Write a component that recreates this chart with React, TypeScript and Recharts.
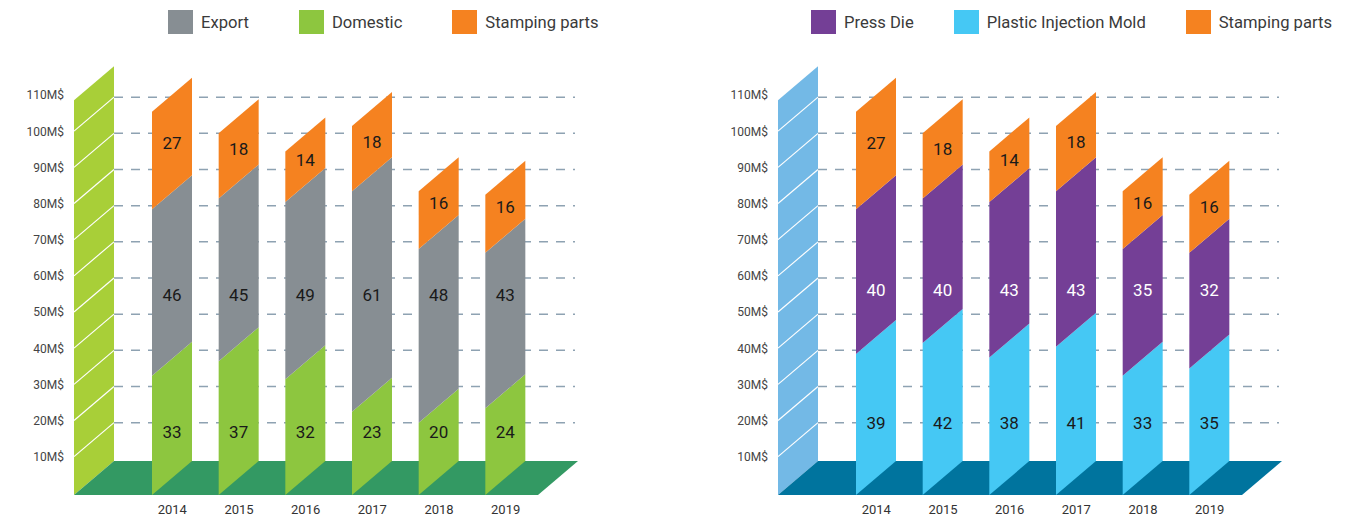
import React from "react";
import {
  BarChart,
  Bar,
  XAxis,
  YAxis,
  CartesianGrid,
  Legend,
  LabelList,
  Customized,
} from "recharts";

// values
const YEARS = ["2014", "2015", "2016", "2017", "2018", "2019"];
const DOMESTIC = [33, 37, 32, 23, 20, 24];
const EXPORT = [46, 45, 49, 61, 48, 43];
const STAMPING = [27, 18, 14, 18, 16, 16];
const PLASTIC_MOLD = [39, 42, 38, 41, 33, 35];
const PRESS_DIE = [40, 40, 43, 43, 35, 32];
const Y_TICKS = [10, 20, 30, 40, 50, 60, 70, 80, 90, 100, 110];
const GRID_VALUES = [20, 30, 40, 50, 60, 70, 80, 90, 100, 110];

const FONT = "Roboto, 'Open Sans', sans-serif";

// layout of one chart panel
const CHART_W = 650;
const CHART_H = 519;
const PLOT_LEFT = 114;
const PLOT_RIGHT = 575;
const PLOT_TOP = 61;
const PLOT_BOTTOM = 495;
const Y_MAX = 120;
const DEPTH_X = 40; // 3d slant of wall / floor / bar tops
const DEPTH_Y = 34;

const yOf = (v: number) =>
  PLOT_BOTTOM - (v / Y_MAX) * (PLOT_BOTTOM - PLOT_TOP);

interface SeriesDef {
  key: string;
  name: string;
  color: string;
  labelColor: string;
  labelRow?: number; // fixed y for label, otherwise centred in segment
}

interface PanelProps {
  data: any[];
  series: SeriesDef[]; // bottom to top
  legendOrder: string[];
  legendLeft: number;
  legendGap: number;
  wallColor: string;
  floorColor: string;
}

const slantShape = (fill: string) => (props: any) => {
  const { x, y, width, height } = props;
  if (!height || height <= 0) return <g />;
  const pts = [
    [x, y + height],
    [x, y],
    [x + width, y - DEPTH_Y],
    [x + width, y + height - DEPTH_Y],
  ]
    .map((p) => p.join(","))
    .join(" ");
  return <polygon points={pts} fill={fill} />;
};

const segmentLabel = (s: SeriesDef) => (props: any) => {
  const { x, y, width, height, value } = props;
  const ty = s.labelRow ?? y + height / 2 - DEPTH_Y / 2;
  return (
    <text
      x={x + width / 2}
      y={ty}
      textAnchor="middle"
      dominantBaseline="central"
      fontSize={17}
      fontFamily={FONT}
      fill={s.labelColor}
    >
      {value}
    </text>
  );
};

const Backdrop = ({ wall, floor }: { wall: string; floor: string }) => {
  const back = PLOT_LEFT;
  const front = PLOT_LEFT - DEPTH_X;
  const topFront = yOf(110) + 3;
  const wallPts = [
    [front, PLOT_BOTTOM],
    [front, topFront],
    [back, topFront - DEPTH_Y],
    [back, PLOT_BOTTOM - DEPTH_Y],
  ];
  const floorPts = [
    [front, PLOT_BOTTOM],
    [back, PLOT_BOTTOM - DEPTH_Y],
    [PLOT_RIGHT + 3, PLOT_BOTTOM - DEPTH_Y],
    [PLOT_RIGHT + 3 - DEPTH_X, PLOT_BOTTOM],
  ];
  const str = (a: number[][]) => a.map((p) => p.join(",")).join(" ");
  return (
    <g>
      <polygon points={str(wallPts)} fill={wall} />
      {GRID_VALUES.map((v) => (
        <line
          key={v}
          x1={back}
          y1={yOf(v)}
          x2={front}
          y2={yOf(v) + DEPTH_Y}
          stroke="#ffffff"
          strokeWidth={1.2}
        />
      ))}
      <polygon points={str(floorPts)} fill={floor} />
    </g>
  );
};

const Panel = ({
  data,
  series,
  legendOrder,
  legendLeft,
  legendGap,
  wallColor,
  floorColor,
}: PanelProps) => {
  const renderLegend = () => (
    <div style={{ display: "flex", gap: legendGap, fontFamily: FONT }}>
      {legendOrder.map((key) => {
        const s = series.find((d) => d.key === key)!;
        return (
          <div key={key} style={{ display: "flex", alignItems: "center" }}>
            <div
              style={{
                width: 25,
                height: 24,
                backgroundColor: s.color,
                marginRight: 8,
              }}
            />
            <span style={{ fontSize: 16.6, color: "#3a3a3a" }}>{s.name}</span>
          </div>
        );
      })}
    </div>
  );

  return (
    <BarChart
      width={CHART_W}
      height={CHART_H}
      data={data}
      margin={{
        top: PLOT_TOP,
        right: CHART_W - PLOT_RIGHT,
        left: 0,
        bottom: 0,
      }}
    >
      <Customized component={<Backdrop wall={wallColor} floor={floorColor} />} />
      <CartesianGrid
        vertical={false}
        horizontalValues={GRID_VALUES}
        stroke="#8ea2b2"
        strokeWidth={1.5}
        strokeDasharray="9 8"
      />
      <XAxis
        dataKey="year"
        height={CHART_H - PLOT_BOTTOM}
        axisLine={false}
        tickLine={false}
        tickMargin={4}
        padding={{ left: 25, right: 36 }}
        tick={{ fontSize: 13, fill: "#333", fontFamily: FONT }}
      />
      <YAxis
        width={PLOT_LEFT}
        domain={[0, Y_MAX]}
        ticks={Y_TICKS}
        tickFormatter={(v) => `${v}M$`}
        axisLine={false}
        tickLine={false}
        tickMargin={44}
        tick={{ fontSize: 12, fill: "#444", fontFamily: FONT, dy: -2 }}
      />
      <Legend
        verticalAlign="middle"
        align="center"
        content={renderLegend}
        wrapperStyle={{ top: 10, left: legendLeft, width: "auto" }}
      />
      {series.map((s) => (
        <Bar
          key={s.key}
          dataKey={s.key}
          name={s.name}
          stackId="a"
          fill={s.color}
          barSize={40}
          shape={slantShape(s.color)}
          isAnimationActive={false}
        >
          <LabelList dataKey={s.key} content={segmentLabel(s)} />
        </Bar>
      ))}
    </BarChart>
  );
};

const salesData = YEARS.map((year, i) => ({
  year,
  domestic: DOMESTIC[i],
  export: EXPORT[i],
  stamping: STAMPING[i],
}));

const productData = YEARS.map((year, i) => ({
  year,
  plastic: PLASTIC_MOLD[i],
  pressDie: PRESS_DIE[i],
  stamping: STAMPING[i],
}));

const SALES_SERIES: SeriesDef[] = [
  { key: "domestic", name: "Domestic", color: "#8dc63f", labelColor: "#1a1a1a", labelRow: 432 },
  { key: "export", name: "Export", color: "#878e93", labelColor: "#1a1a1a", labelRow: 295 },
  { key: "stamping", name: "Stamping parts", color: "#f58220", labelColor: "#1a1a1a" },
];

const PRODUCT_SERIES: SeriesDef[] = [
  { key: "plastic", name: "Plastic Injection Mold", color: "#45c8f4", labelColor: "#1a1a1a", labelRow: 423 },
  { key: "pressDie", name: "Press Die", color: "#743f96", labelColor: "#ffffff", labelRow: 290 },
  { key: "stamping", name: "Stamping parts", color: "#f58220", labelColor: "#1a1a1a" },
];

export default function App() {
  return (
    <div
      style={{
        position: "absolute",
        left: 0,
        top: 0,
        width: 1360,
        height: 519,
        background: "#fff",
      }}
    >
      <div style={{ position: "absolute", left: 0, top: 0 }}>
        <Panel
          data={salesData}
          series={SALES_SERIES}
          legendOrder={["export", "domestic", "stamping"]}
          legendLeft={168}
          legendGap={50}
          wallColor="#a8cf38"
          floorColor="#339963"
        />
      </div>
      <div style={{ position: "absolute", left: 704, top: 0 }}>
        <Panel
          data={productData}
          series={PRODUCT_SERIES}
          legendOrder={["pressDie", "plastic", "stamping"]}
          legendLeft={107}
          legendGap={40}
          wallColor="#73b9e6"
          floorColor="#00749e"
        />
      </div>
    </div>
  );
}
